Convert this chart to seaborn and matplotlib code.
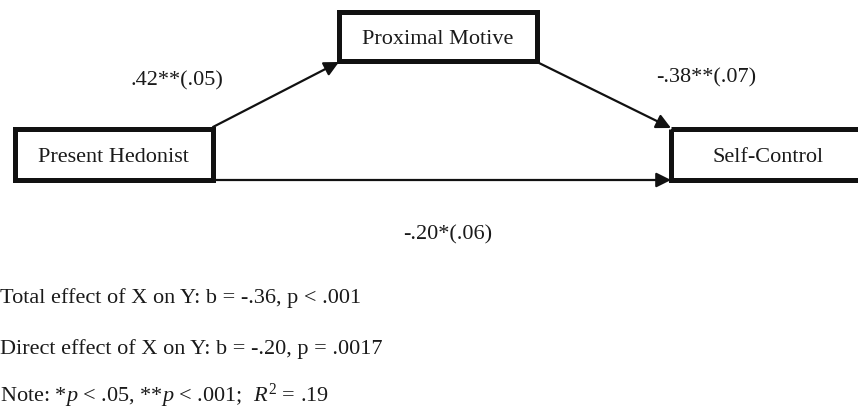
import matplotlib
matplotlib.use("Agg")
import matplotlib.pyplot as plt
import seaborn as sns
from matplotlib.patches import Rectangle, FancyArrowPatch

sns.set_theme(style="white")
plt.rcParams['font.family'] = ['Liberation Serif', 'DejaVu Serif']
plt.rcParams['mathtext.fontset'] = 'custom'
plt.rcParams['mathtext.rm'] = 'Liberation Serif'
plt.rcParams['mathtext.it'] = 'Liberation Serif:italic'

# nodes of the mediation model
node_names = ['Present Hedonist', 'Proximal Motive', 'Self-Control']
# path coefficients (se)
path_a = '.42**(.05)'
path_b = '-.38**(.07)'
path_c = '-.20*(.06)'
notes = ['Total effect of X on Y: b = -.36, p < .001',
         'Direct effect of X on Y: b = -.20, p = .0017',
         r'Note: *$p$ < .05, **$p$ < .001;  $R^2$ = .19']

# layout in pixel coords (x0, y0, x1, y1) and label centres
boxes = [(15, 130, 213, 181), (339, 13, 537, 62), (671, 130, 872, 181)]
label_x = [113, 438, 768]

fig = plt.figure(figsize=(8.58, 4.10), dpi=100)
ax = fig.add_axes([0, 0, 1, 1])
ax.set_xlim(0, 858)
ax.set_ylim(410, 0)
ax.axis('off')

fs = 16
ink = '#1a1a1a'
for name, (x0, y0, x1, y1), lx in zip(node_names, boxes, label_x):
    ax.add_patch(Rectangle((x0, y0), x1 - x0, y1 - y0, fill=False,
                           edgecolor='#111111', linewidth=3.6, joinstyle='miter',
                           clip_on=False))
    ax.text(lx, (y0 + y1) / 2 + 2, name, ha='center', va='center', fontsize=fs,
            color=ink)

def arrow(p, q):
    ax.add_patch(FancyArrowPatch(p, q, arrowstyle='-|>', mutation_scale=22,
                                 color='#111111', linewidth=1.6,
                                 shrinkA=0, shrinkB=0))

arrow((213, 128), (339, 63))
arrow((537, 63), (671, 129))
arrow((215, 181), (671, 181))

ax.text(177, 81, path_a, ha='center', va='center', fontsize=fs, color=ink)
ax.text(706, 78, path_b, ha='center', va='center', fontsize=fs, color=ink)
ax.text(448, 235, path_c, ha='center', va='center', fontsize=fs, color=ink)

for txt, y in zip(notes, [298, 349, 396]):
    ax.text(0, y, txt, ha='left', va='center', fontsize=fs, color=ink)

fig.savefig('out.png', dpi=100, facecolor='white')
